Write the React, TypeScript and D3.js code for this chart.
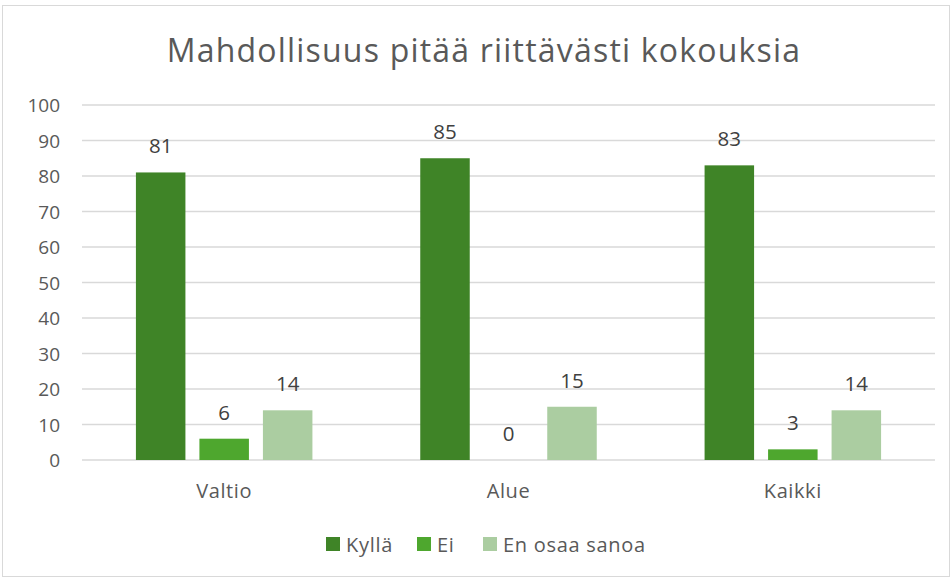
import React from "react";
import * as d3 from "d3";

const categories = ["Valtio", "Alue", "Kaikki"];
const seriesNames = ["Kyllä", "Ei", "En osaa sanoa"];
const kylla = [81, 85, 83];
const ei = [6, 0, 3];
const enOsaa = [14, 15, 14];
const yTicks = [0, 10, 20, 30, 40, 50, 60, 70, 80, 90, 100];
const colors = ["#3f8427", "#4ea72e", "#abcda1"];
const title = "Mahdollisuus pitää riittävästi kokouksia";

const W = 950;
const H = 578;
const plotLeft = 82;
const plotRight = 935;
const yTop = 105;
const yBottom = 460;
const font = "'Open Sans', 'Liberation Sans', sans-serif";
const textColor = "#595959";

export default function App() {
  const series = [kylla, ei, enOsaa];
  const x = d3.scaleBand<string>().domain(categories).range([plotLeft, plotRight]).paddingInner(0).paddingOuter(0);
  const y = d3.scaleLinear().domain([0, 100]).range([yBottom, yTop]);
  const barW = 49.5;
  const gap = 14;
  const groupW = barW * 3 + gap * 2;

  return (
    <svg width={W} height={H} style={{ position: "absolute", left: 0, top: 0, fontFamily: font }}>
      <rect x={2.5} y={5.5} width={W - 3} height={H - 7} fill="#fff" stroke="#d9d9d9" strokeWidth={1} />
      <text x={484} y={62} textAnchor="middle" fontSize={32} letterSpacing={1.2} fill={textColor}>
        {title}
      </text>
      {yTicks.map((t) => (
        <g key={t}>
          <line x1={plotLeft} x2={plotRight} y1={y(t)} y2={y(t)} stroke="#d9d9d9" strokeWidth={1.5} />
          <text x={60} y={y(t)} dy="0.37em" textAnchor="end" fontSize={19} fill={textColor}>
            {t}
          </text>
        </g>
      ))}
      {categories.map((c, ci) => {
        const cx = (x(c) as number) + x.bandwidth() / 2;
        const start = cx - groupW / 2;
        return (
          <g key={c}>
            {series.map((s, si) => {
              const v = s[ci];
              const bx = start + si * (barW + gap);
              return (
                <g key={si}>
                  {v > 0 && (
                    <rect x={bx} y={y(v)} width={barW} height={y(0) - y(v)} fill={colors[si]} />
                  )}
                  <text x={bx + barW / 2} y={y(v) - 19} textAnchor="middle" fontSize={20.5} fill="#404040">
                    {v}
                  </text>
                </g>
              );
            })}
            <text x={cx} y={498} textAnchor="middle" fontSize={20} letterSpacing={0.6} fill={textColor}>
              {c}
            </text>
          </g>
        );
      })}
      {(() => {
        const items = [
          { x: 326, label: seriesNames[0] },
          { x: 417, label: seriesNames[1] },
          { x: 483, label: seriesNames[2] },
        ];
        return items.map((it, i) => (
          <g key={i}>
            <rect x={it.x} y={537} width={14} height={14} fill={colors[i]} />
            <text x={it.x + 20} y={552} fontSize={20} letterSpacing={0.7} fill={textColor}>
              {it.label}
            </text>
          </g>
        ));
      })()}
    </svg>
  );
}
